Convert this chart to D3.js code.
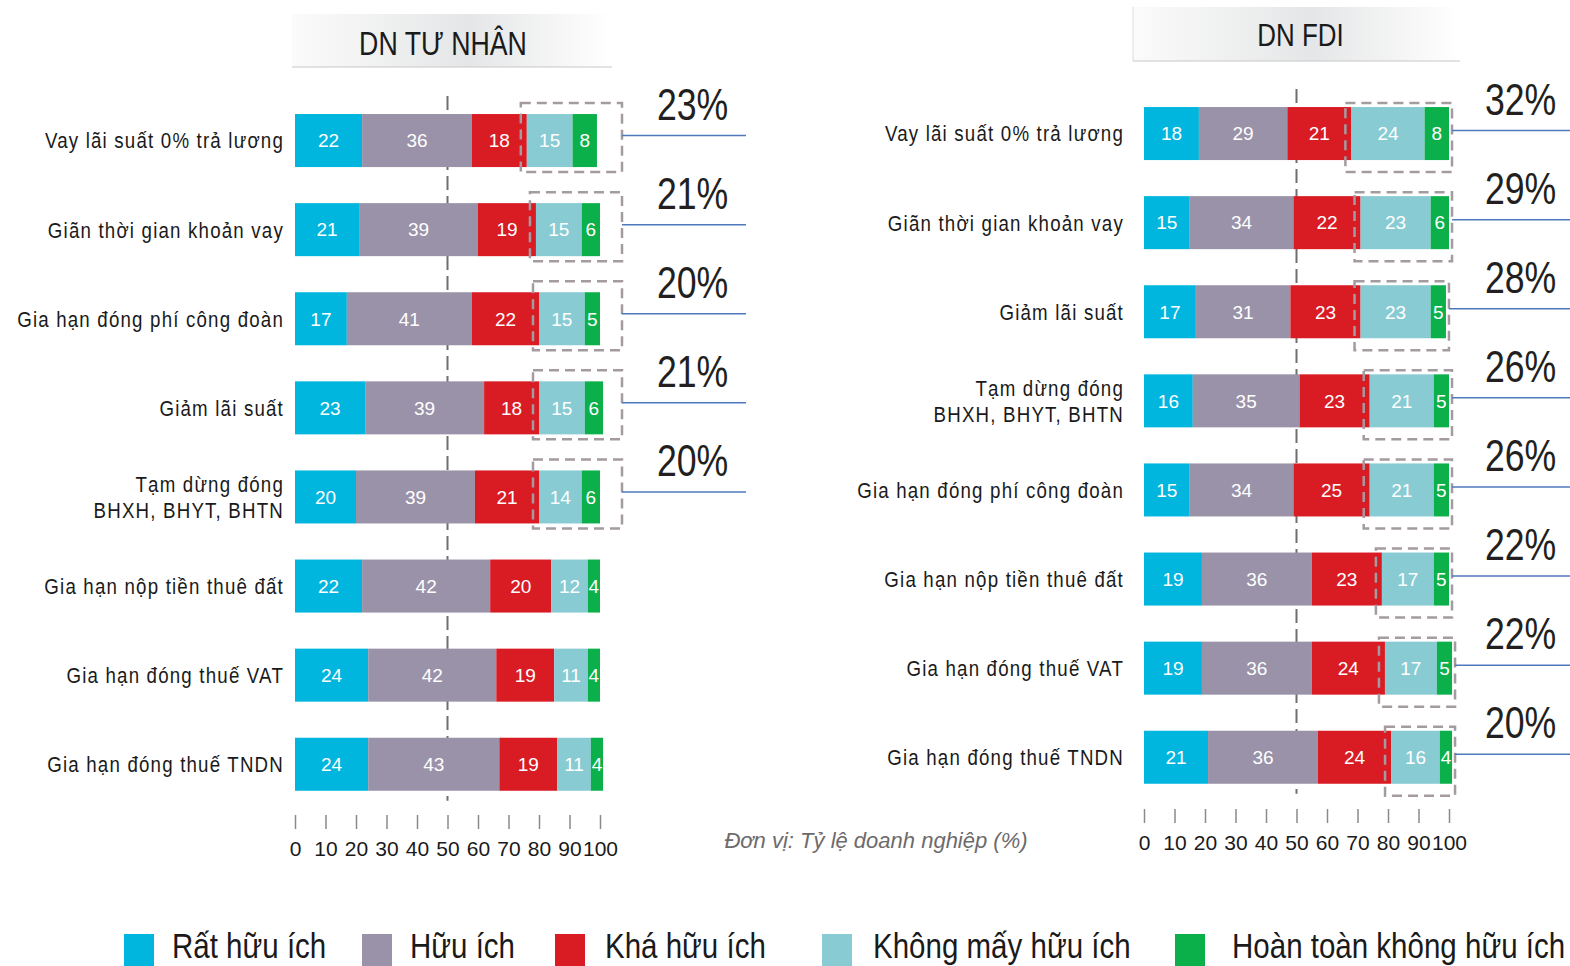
<!DOCTYPE html>
<html lang="vi">
<head>
<meta charset="utf-8">
<script src="https://cdn.jsdelivr.net/npm/d3@7/dist/d3.min.js"></script>
<style>
  html, body { margin: 0; padding: 0; background: #ffffff; }
  svg { display: block; }
</style>
</head>
<body>
<svg id="chart" width="1570" height="966"></svg>
<script>
// Response categories (legend order) and their colours
const legendLabels = ["Rất hữu ích", "Hữu ích", "Khá hữu ích", "Không mấy hữu ích", "Hoàn toàn không hữu ích"];
const legendColors = ["#00b6de", "#9a92a8", "#d91b24", "#88cbd3", "#0cb04b"];

const tickValues = [0, 10, 20, 30, 40, 50, 60, 70, 80, 90, 100];

// Private enterprises
const privateTitle = "DN TƯ NHÂN";
const privateCategories = [
  "Vay lãi suất 0% trả lương",
  "Giãn thời gian khoản vay",
  "Gia hạn đóng phí công đoàn",
  "Giảm lãi suất",
  "Tạm dừng đóng\nBHXH, BHYT, BHTN",
  "Gia hạn nộp tiền thuê đất",
  "Gia hạn đóng thuế VAT",
  "Gia hạn đóng thuế TNDN"
];
const privateVeryUseful   = [22, 21, 17, 23, 20, 22, 24, 24];
const privateUseful       = [36, 39, 41, 39, 39, 42, 42, 43];
const privateFairlyUseful = [18, 19, 22, 18, 21, 20, 19, 19];
const privateNotVery      = [15, 15, 15, 15, 14, 12, 11, 11];
const privateNotAtAll     = [ 8,  6,  5,  6,  6,  4,  4,  4];
const privateHighlighted  = 5;   // rows whose "not useful" share is called out

// FDI enterprises
const fdiTitle = "DN FDI";
const fdiCategories = [
  "Vay lãi suất 0% trả lương",
  "Giãn thời gian khoản vay",
  "Giảm lãi suất",
  "Tạm dừng đóng\nBHXH, BHYT, BHTN",
  "Gia hạn đóng phí công đoàn",
  "Gia hạn nộp tiền thuê đất",
  "Gia hạn đóng thuế VAT",
  "Gia hạn đóng thuế TNDN"
];
const fdiVeryUseful   = [18, 15, 17, 16, 15, 19, 19, 21];
const fdiUseful       = [29, 34, 31, 35, 34, 36, 36, 36];
const fdiFairlyUseful = [21, 22, 23, 23, 25, 23, 24, 24];
const fdiNotVery      = [24, 23, 23, 21, 21, 17, 17, 16];
const fdiNotAtAll     = [ 8,  6,  5,  5,  5,  5,  5,  4];
const fdiHighlighted  = 8;

const unitNote = "Đơn vị: Tỷ lệ doanh nghiệp (%)";

const SANS = "'Liberation Sans', Arial, sans-serif";

const svg = d3.select("#chart");
const defs = svg.append("defs");
const grad = defs.append("linearGradient").attr("id", "titleGrad")
  .attr("x1", "0%").attr("x2", "100%").attr("y1", "0%").attr("y2", "0%");
grad.append("stop").attr("offset", "0%").attr("stop-color", "#fbfbfb");
grad.append("stop").attr("offset", "55%").attr("stop-color", "#e5e6e7");
grad.append("stop").attr("offset", "100%").attr("stop-color", "#ffffff");

const color = d3.scaleOrdinal().domain(d3.range(5)).range(legendColors);

// Condensed text: a regular sans squeezed horizontally around its anchor point
function narrowText(parent, x, y, sx) {
  return parent.append("g").attr("transform", `translate(${x},${y}) scale(${sx},1)`)
    .append("text").attr("x", 0).attr("y", 0).attr("font-family", SANS);
}

function drawPanel(cfg) {
  const g = svg.append("g");
  const series = cfg.series;
  const rows = cfg.categories.map((c, i) => {
    const vals = series.map(s => s[i]);
    let acc = 0;
    const segs = vals.map((v, k) => { const s = { k, v, x0: acc, x1: acc + v }; acc += v; return s; });
    return { cat: c, i, segs, total: acc };
  });

  const x = d3.scaleLinear().domain([0, 100]).range(cfg.xRange);
  const y = d3.scaleBand().domain(d3.range(rows.length)).range(cfg.yRange)
    .paddingInner(0.405).paddingOuter(0.2025);
  const bw = y.bandwidth();

  // title box
  const tb = cfg.titleBox;
  g.append("rect").attr("x", tb.x).attr("y", tb.y).attr("width", tb.w).attr("height", tb.h)
    .attr("fill", "url(#titleGrad)");
  g.append("line").attr("x1", tb.x).attr("x2", tb.x + tb.w).attr("y1", tb.y + tb.h).attr("y2", tb.y + tb.h)
    .attr("stroke", "#c8c8c8").attr("stroke-width", 1.2);
  if (tb.leftEdge) {
    g.append("line").attr("x1", tb.x).attr("x2", tb.x).attr("y1", tb.y).attr("y2", tb.y + tb.h)
      .attr("stroke", "#dcdcdc").attr("stroke-width", 1);
  }
  narrowText(g, tb.x + tb.w / 2 + tb.dx, tb.baseline, 0.81)
    .attr("text-anchor", "middle").attr("font-size", tb.size)
    .attr("fill", "#1a1a1a").text(cfg.title);

  // 50% reference line
  g.append("line").attr("x1", x(50)).attr("x2", x(50))
    .attr("y1", cfg.yRange[0]).attr("y2", cfg.yRange[1] - 8)
    .attr("stroke", "#6f6f6f").attr("stroke-width", 2).attr("stroke-dasharray", "14,6");

  // stacked bars
  const rowG = g.selectAll(".row").data(rows).join("g").attr("class", "row")
    .attr("transform", d => `translate(0,${y(d.i)})`);
  rowG.selectAll("rect").data(d => d.segs).join("rect")
    .attr("x", s => x(s.x0)).attr("width", s => x(s.x1) - x(s.x0))
    .attr("y", 0).attr("height", bw).attr("fill", s => color(s.k));
  rowG.selectAll("text.val").data(d => d.segs).join("text").attr("class", "val")
    .attr("x", s => (x(s.x0) + x(s.x1)) / 2).attr("y", bw / 2).attr("dy", "0.36em")
    .attr("text-anchor", "middle").attr("font-family", SANS).attr("font-size", 19)
    .attr("fill", "#ffffff").text(s => s.v);

  // category labels
  rowG.each(function (d) {
    const lines = d.cat.split("\n");
    const lh = 26;
    lines.forEach((ln, j) => {
      narrowText(d3.select(this), cfg.labelX, bw / 2 + (j - (lines.length - 1) / 2) * lh, 0.85)
        .attr("dy", "0.36em").attr("text-anchor", "end").attr("font-size", 22)
        .attr("letter-spacing", "1.4px").attr("fill", "#1a1a1a").text(ln);
    });
  });

  // call-outs: share of the two "not useful" answers
  rows.slice(0, cfg.highlighted).forEach(d => {
    const top = y(d.i), cy = top + bw / 2;
    const start = d.segs[3].x0;
    const bx0 = x(start) - 6;
    const bx1 = cfg.boxRight === "bar" ? x(d.total) + 3 : x(100) + 22;
    const by0 = top - cfg.boxPad[0], by1 = top + bw + cfg.boxPad[1];
    g.append("rect").attr("x", bx0).attr("y", by0).attr("width", bx1 - bx0).attr("height", by1 - by0)
      .attr("fill", "none").attr("stroke", "#a39ba0").attr("stroke-width", 2.5)
      .attr("stroke-dasharray", "10,6");
    const ly = cy + cfg.lineDy;
    g.append("line").attr("x1", bx1).attr("x2", cfg.lineEnd).attr("y1", ly).attr("y2", ly)
      .attr("stroke", "#4f79bd").attr("stroke-width", 1.5);
    const share = d.segs[3].v + d.segs[4].v;
    narrowText(g, cfg.pctX, ly - 16, 0.81)
      .attr("font-size", 44).attr("fill", "#231f20").text(share + "%");
  });

  // x axis (ticks only)
  const axis = d3.axisBottom(x).tickValues(tickValues).tickSize(14).tickPadding(12).tickFormat(d3.format("d"));
  const ax = g.append("g").attr("transform", `translate(0,${cfg.axisY})`).call(axis);
  ax.select(".domain").remove();
  ax.selectAll(".tick line").attr("stroke", "#8a8a8a").attr("stroke-width", 1.5);
  ax.selectAll(".tick text").attr("font-family", SANS).attr("font-size", 21).attr("fill", "#1a1a1a");
}

drawPanel({
  title: privateTitle,
  categories: privateCategories,
  series: [privateVeryUseful, privateUseful, privateFairlyUseful, privateNotVery, privateNotAtAll],
  highlighted: privateHighlighted,
  xRange: [295, 600],
  yRange: [96, 96 + 8 * 89.1],
  labelX: 284,
  titleBox: { x: 292, y: 14, w: 320, h: 53, baseline: 55, size: 33, dx: -9 },
  boxPad: [11, 5],
  boxRight: "fixed",
  lineDy: -5,
  lineEnd: 746,
  pctX: 657,
  axisY: 815
});

drawPanel({
  title: fdiTitle,
  categories: fdiCategories,
  series: [fdiVeryUseful, fdiUseful, fdiFairlyUseful, fdiNotVery, fdiNotAtAll],
  highlighted: fdiHighlighted,
  xRange: [1144, 1449],
  yRange: [89, 89 + 8 * 89.1],
  labelX: 1124,
  titleBox: { x: 1133, y: 7, w: 327, h: 54, baseline: 46, size: 32, dx: 4, leftEdge: true },
  boxPad: [4, 12],
  boxRight: "bar",
  lineDy: -3,
  lineEnd: 1572,
  pctX: 1485,
  axisY: 809
});

// unit note
svg.append("text").attr("x", 876).attr("y", 848).attr("text-anchor", "middle")
  .attr("font-family", SANS).attr("font-style", "italic").attr("font-size", 22)
  .attr("fill", "#6d6a6b").text(unitNote);

// legend along the bottom edge
const legendSwatchX = [124, 362, 555, 822, 1175];
const legendTextX = [172, 410, 605, 873, 1232];
const legend = svg.append("g");
legendLabels.forEach((lab, i) => {
  legend.append("rect").attr("x", legendSwatchX[i]).attr("y", 934).attr("width", 30).attr("height", 32)
    .attr("fill", legendColors[i]);
  narrowText(legend, legendTextX[i], 958, 0.82)
    .attr("font-size", 36).attr("fill", "#1a1a1a").text(lab);
});
</script>
</body>
</html>
